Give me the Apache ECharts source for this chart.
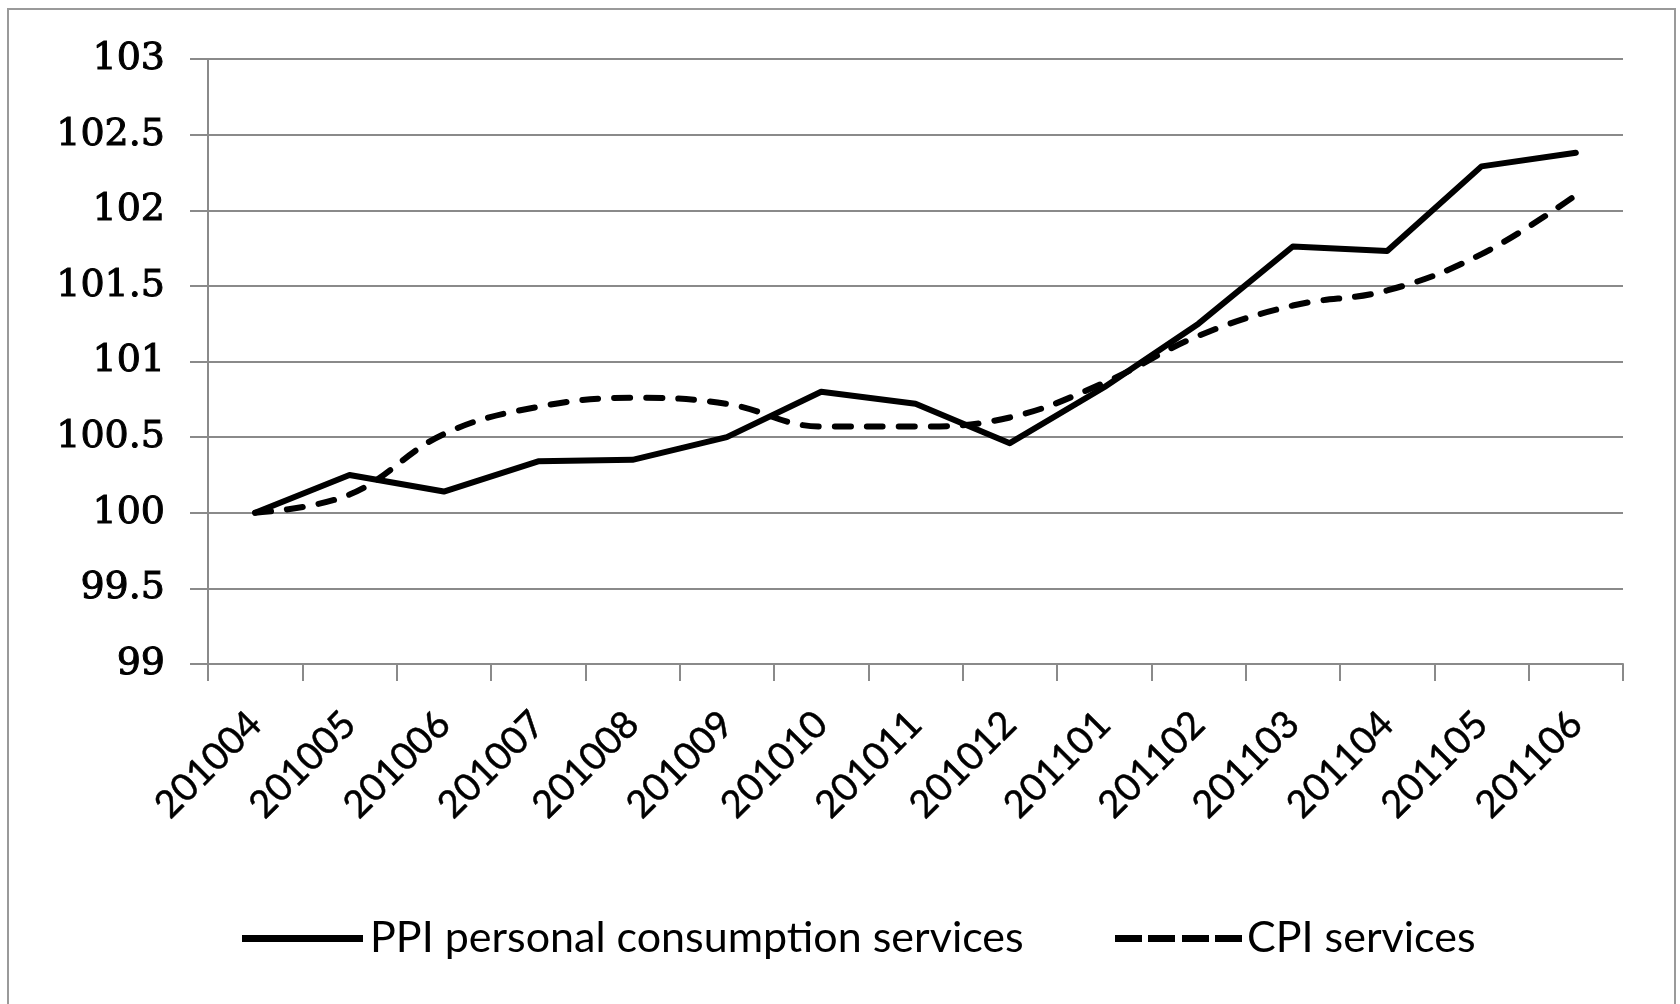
<!DOCTYPE html>
<html>
<head>
<meta charset="utf-8">
<script src="https://cdn.jsdelivr.net/npm/echarts@6/dist/echarts.min.js"></script>
<style>
  html, body { margin: 0; padding: 0; background: #ffffff; }
  #chart { width: 1680px; height: 1004px; }
</style>
</head>
<body>
<div id="chart"></div>
<script>
const categories = ['201004','201005','201006','201007','201008','201009','201010','201011','201012','201101','201102','201103','201104','201105','201106'];
const ppiValues = [100.0, 100.25, 100.14, 100.34, 100.35, 100.50, 100.80, 100.72, 100.46, 100.83, 101.25, 101.76, 101.73, 102.29, 102.38];
const cpiValues = [100.0, 100.12, 100.52, 100.70, 100.76, 100.72, 100.57, 100.57, 100.63, 100.86, 101.17, 101.37, 101.47, 101.71, 102.10];
const seriesNames = ['PPI personal consumption services', 'CPI services'];
const yMin = 99, yMax = 103, yStep = 0.5;

const chart = echarts.init(document.getElementById('chart'), null, { renderer: 'canvas' });

const gridColor = '#8a8a8a';

const option = {
  backgroundColor: '#ffffff',
  animation: false,
  graphic: [{
    type: 'rect',
    shape: { x: 8, y: 9, width: 1667, height: 1020 },
    style: { fill: 'none', stroke: '#9a9a9a', lineWidth: 2 },
    silent: true,
    z: -1
  }],
  grid: { left: 208, top: 59, width: 1415, height: 605 },
  legend: [{
    data: [{ name: seriesNames[0], icon: 'path://M0,0H121V7H0Z' }],
    left: 237, top: 912,
    itemWidth: 121, itemHeight: 7,
    selectedMode: false,
    textStyle: { fontFamily: 'Lato', fontSize: 43, color: '#000', padding: [0, 0, 0, 2] }
  }, {
    data: [{ name: seriesNames[1], icon: 'path://M0,0H27V7H0Z M33,0H60V7H33Z M67,0H94V7H67Z M100,0H127V7H100Z' }],
    left: 1110, top: 912,
    itemWidth: 127, itemHeight: 7,
    selectedMode: false,
    textStyle: { fontFamily: 'Lato', fontSize: 43, color: '#000', padding: [0, 0, 0, 0] }
  }],
  xAxis: {
    type: 'category',
    data: categories,
    boundaryGap: true,
    axisLine: { show: true, lineStyle: { color: gridColor, width: 2 } },
    axisTick: { show: true, length: 17, lineStyle: { color: gridColor, width: 2 } },
    axisLabel: {
      interval: 0, rotate: 45, margin: 54,
      fontFamily: 'Lato', fontSize: 38, color: '#000',
      textBorderColor: '#000', textBorderWidth: 0.5
    },
    splitLine: { show: false }
  },
  yAxis: {
    type: 'value',
    min: yMin, max: yMax, interval: yStep,
    axisLine: { show: true, lineStyle: { color: gridColor, width: 2 } },
    axisTick: { show: true, length: 18, lineStyle: { color: gridColor, width: 2 } },
    axisLabel: {
      margin: 43,
      fontFamily: 'DejaVu Serif', fontSize: 38, color: '#000',
      textBorderColor: '#000', textBorderWidth: 1
    },
    splitLine: { show: true, lineStyle: { color: gridColor, width: 2 } }
  },
  series: [{
    name: seriesNames[0],
    type: 'line',
    data: ppiValues,
    symbol: 'none',
    smooth: false,
    lineStyle: { color: '#000', width: 6, cap: 'round', join: 'round' },
    itemStyle: { color: '#000' }
  }, {
    name: seriesNames[1],
    type: 'line',
    data: cpiValues,
    symbol: 'none',
    smooth: 0.4,
    lineStyle: { color: '#000', width: 6, type: [16, 16], cap: 'round' },
    itemStyle: { color: '#000' }
  }]
};

chart.setOption(option);
</script>
</body>
</html>
